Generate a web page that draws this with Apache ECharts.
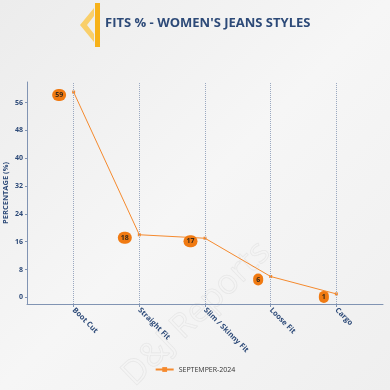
<!DOCTYPE html>
<html><head><meta charset="utf-8">
<script src="https://cdn.jsdelivr.net/npm/echarts@6/dist/echarts.min.js"></script>
<style>html,body{margin:0;padding:0;background:#f1f1f1}#c{width:390px;height:390px}</style>
</head><body><div id="c"></div>
<script>
const categories = ["Boot Cut","Straight Fit","Slim / Skinny Fit","Loose Fit","Cargo"];
const values = [59, 18, 17, 6, 1];
const yTicks = [0, 8, 16, 24, 32, 40, 48, 56];
const seriesName = "SEPTEMPER-2024";
const titleText = "FITS % - WOMEN'S JEANS STYLES";

const navy = '#2d4a78';
const chart = echarts.init(document.getElementById('c'), null, {renderer:'canvas'});
chart.setOption({
  backgroundColor: {type:'linear', x:0, y:0, x2:1, y2:1, colorStops:[{offset:0,color:'#ececec'},{offset:0.5,color:'#f6f6f6'},{offset:1,color:'#efefef'}]},
  animation: false,
  graphic: [
    {type:'polygon', shape:{points:[[94,8],[94,16],[87,25],[94,34],[94,42],[80,25]]}, style:{fill:'#f9cf6a'}},
    {type:'rect', shape:{x:95,y:3,width:5,height:44}, style:{fill:'#f7b21a'}},
    {type:'text', left:105, top:17, style:{text:titleText, font:'bold 13px "Open Sans", sans-serif', fill:navy}},
    {type:'text', x:116, y:368, rotation: Math.PI*0.245, z:-1, style:{text:'D&J Reports', font:'34px "Open Sans", sans-serif', fill:'rgba(0,0,0,0)', stroke:'rgba(140,140,140,0.12)', lineWidth:0.8}}
  ],
  grid: {left:27, right:7, top:82, bottom:86, containLabel:false, outerBoundsMode:'none'},
  legend: {bottom:12, left:'center', itemWidth:18, itemHeight:6, textStyle:{fontSize:7, color:'#333', fontFamily:'"Open Sans", sans-serif'}, data:[seriesName]},
  xAxis: {
    type:'value', min:-0.71, max:4.71,
    axisLine:{show:true, onZero:false, lineStyle:{color:'#8194b3', width:1}},
    axisTick:{show:true, customValues:[0,1,2,3,4], length:3, lineStyle:{color:'#8194b3'}},
    axisLabel:{customValues:[0,1,2,3,4], formatter: v => categories[Math.round(v)] || '', rotate:-45, fontSize:7.5, fontWeight:'bold', color:navy, margin:5, fontFamily:'"Open Sans", sans-serif'},
    splitLine:{show:false}
  },
  yAxis: {
    type:'value', min:-1.9, max:61.9,
    name:'PERCENTAGE (%)', nameLocation:'middle', nameGap:17, nameRotate:90, nameMoveOverlap:false,
    nameTextStyle:{fontSize:7.5, fontWeight:'bold', color:navy, fontFamily:'"Open Sans", sans-serif'},
    axisLine:{show:true, onZero:false, lineStyle:{color:'#8194b3', width:1}},
    axisTick:{show:true, customValues:yTicks, length:2, lineStyle:{color:'#8194b3'}},
    axisLabel:{customValues:yTicks, fontSize:7, fontWeight:'bold', color:navy, margin:4, fontFamily:'"Open Sans", sans-serif'},
    splitLine:{show:false}
  },
  series: [{
    name: seriesName, type:'line',
    data: values.map((v,i)=>[i,v]),
    symbol:'rect', symbolSize:3,
    lineStyle:{color:'#f58a2e', width:1},
    itemStyle:{color:'#f58a2e'},
    label:{show:true, position:'left', offset:[0,3], distance:6, formatter: p => p.value[1],
      backgroundColor:'#f07a12', borderRadius:7, padding:[3,3,2,3], fontSize:7, fontWeight:'bold', color:'#3a2a1a', fontFamily:'"Open Sans", sans-serif'},
    markLine:{silent:true, symbol:'none', label:{show:false},
      lineStyle:{type:'dotted', color:'#9aa8c0', width:1},
      data: categories.map((c,i)=>({xAxis:i}))}
  }]
});
</script></body></html>
